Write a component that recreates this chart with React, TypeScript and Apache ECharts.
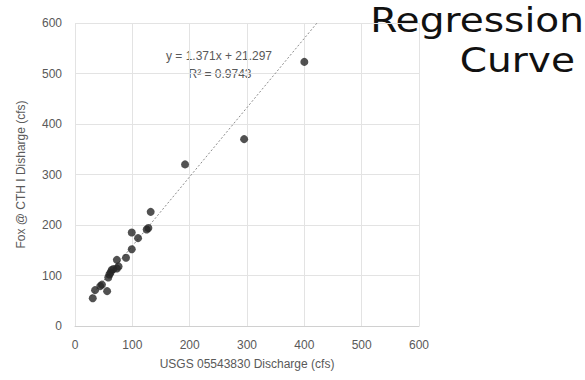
import React, { useEffect, useRef } from "react";
import * as echarts from "echarts";

const usgsDischarge = [31, 35, 44, 47, 56, 58, 60, 62, 64, 67, 73, 73, 76, 89, 99, 110, 99, 125, 128, 132, 192, 295, 400];
const foxDischarge = [55, 71, 79, 82, 69, 96, 102, 106, 111, 113, 114, 131, 118, 135, 152, 174, 185, 191, 194, 226, 320, 370, 523];
const trendSlope = 1.371;
const trendIntercept = 21.297;
const trendXRange = [28, 422];
const axisTicks = [0, 100, 200, 300, 400, 500, 600];

export default function App() {
  const ref = useRef<HTMLDivElement>(null);
  useEffect(() => {
    const chart = echarts.init(ref.current!, null, { renderer: "svg" });
    const points = usgsDischarge.map((x, i) => [x, foxDischarge[i]]);
    const trend = trendXRange.map((x) => [x, trendSlope * x + trendIntercept]);
    const font = "Liberation Sans, Arial, sans-serif";
    const titleFont = "'DejaVu Sans', sans-serif";
    chart.setOption({
      animation: false,
      backgroundColor: "#ffffff",
      grid: { left: 75, right: 166, top: 23, bottom: 54 },
      xAxis: {
        type: "value",
        min: axisTicks[0],
        max: axisTicks[axisTicks.length - 1],
        interval: 100,
        name: "USGS 05543830 Discharge (cfs)",
        nameLocation: "middle",
        nameGap: 32,
        nameTextStyle: { color: "#595959", fontSize: 12, fontFamily: font },
        axisLine: { show: true, lineStyle: { color: "#d0d0d0" } },
        axisTick: { show: false },
        axisLabel: { color: "#595959", fontSize: 12, fontFamily: font, margin: 13 },
        splitLine: { show: true, lineStyle: { color: "#e3e3e3" } },
      },
      yAxis: {
        type: "value",
        min: axisTicks[0],
        max: axisTicks[axisTicks.length - 1],
        interval: 100,
        name: "Fox @ CTH I Disharge (cfs)",
        nameLocation: "middle",
        nameGap: 48,
        nameTextStyle: { color: "#595959", fontSize: 12, fontFamily: font },
        axisLine: { show: false },
        axisTick: { show: false },
        axisLabel: { color: "#595959", fontSize: 12, fontFamily: font, margin: 13 },
        splitLine: { show: true, lineStyle: { color: "#e3e3e3" } },
      },
      series: [
        {
          type: "line",
          data: trend,
          showSymbol: false,
          symbol: "none",
          lineStyle: { color: "#8c8c8c", width: 1, type: [2, 2] },
          z: 1,
        },
        {
          type: "scatter",
          data: points,
          symbolSize: 8,
          itemStyle: { color: "#262626" },
          z: 2,
        },
      ],
      graphic: [
        {
          type: "text",
          x: 219,
          y: 56,
          style: {
            text: "y = 1.371x + 21.297",
            fill: "#595959",
            font: `12px ${font}`,
            align: "center",
            verticalAlign: "middle",
          },
        },
        {
          type: "text",
          x: 220,
          y: 74,
          style: {
            text: "R² = 0.9743",
            fill: "#595959",
            font: `12px ${font}`,
            align: "center",
            verticalAlign: "middle",
          },
        },
        {
          type: "text",
          x: 584,
          y: 20,
          scaleX: 1.15,
          style: {
            text: "Regression",
            fill: "#111111",
            font: `34px ${titleFont}`,
            align: "right",
            verticalAlign: "middle",
          },
        },
        {
          type: "text",
          x: 575,
          y: 60,
          scaleX: 1.15,
          style: {
            text: "Curve",
            fill: "#111111",
            font: `34px ${titleFont}`,
            align: "right",
            verticalAlign: "middle",
          },
        },
      ],
    });
    return () => chart.dispose();
  }, []);
  return <div ref={ref} style={{ width: 585, height: 380, position: "absolute", left: 0, top: 0 }} />;
}
